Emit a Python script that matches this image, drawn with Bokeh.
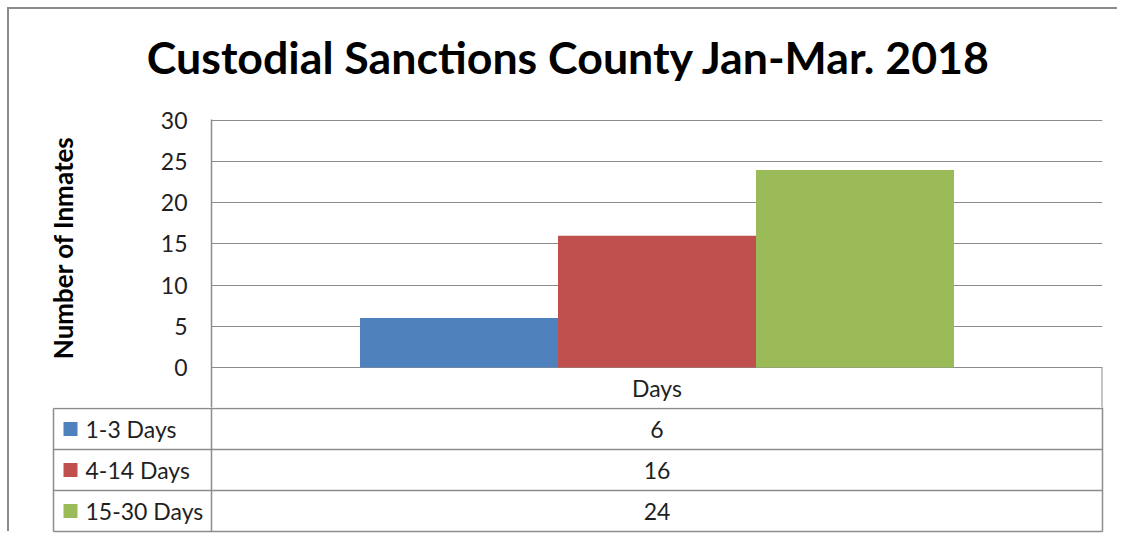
import math
from bokeh.plotting import figure
from bokeh.layouts import column, row
from bokeh.models import FactorRange, Range1d, FixedTicker
from bokeh.core.properties import value
from bokeh.transform import dodge
from bokeh.embed import file_html
from bokeh.resources import INLINE

title_text = "Custodial Sanctions County  Jan-Mar. 2018"
y_title = "Number of  Inmates"
categories = ["Days"]
series = ["1-3 Days", "4-14 Days", "15-30 Days"]
values = [6, 16, 24]
colors = ["#4F81BD", "#C0504D", "#9BBB59"]
y_ticks = [0, 5, 10, 15, 20, 25, 30]

FONT = "Lato"
TXT = "#1f1f1f"
LINE = "#8c8c8c"
W = 1110
LW = 91


def strip(fig):
    fig.outline_line_color = None
    fig.frame_align = False
    return fig


# ---------------- title strip ----------------
p0 = strip(figure(width=W, height=96, output_backend="svg", toolbar_location=None,
                  title_location=None, x_range=Range1d(0, W), y_range=Range1d(96, 0),
                  x_axis_location=None, y_axis_location=None, min_border=0))
p0.grid.visible = False
p0.text(x=[565], y=[47], text=[title_text], text_font=value(FONT),
        text_font_style="bold", text_font_size="44.7px", text_color="black",
        text_align="center", text_baseline="alphabetic")

# ---------------- y-axis title ----------------
pl = strip(figure(width=LW, height=302, output_backend="svg", toolbar_location=None,
                  title_location=None, x_range=Range1d(0, LW), y_range=Range1d(0, 302),
                  x_axis_location=None, y_axis_location=None, min_border=0))
pl.grid.visible = False
pl.text(x=[53], y=[163], text=[y_title], angle=math.pi / 2, text_font=value(FONT),
        text_font_style="bold", text_font_size="26px", text_color="black",
        text_align="center", text_baseline="middle")

# ---------------- chart (incl. table header row) ----------------
p1 = strip(figure(width=W - LW, height=302, output_backend="svg", toolbar_location=None,
                  title_location=None,
                  x_range=FactorRange(factors=categories), y_range=Range1d(-4.858, 30.12),
                  x_axis_location=None,
                  min_border_left=111, min_border_right=17, min_border_top=14,
                  min_border_bottom=0))

group = 1 / 1.5
bw = group / len(series)
for i, (name, v, c) in enumerate(zip(series, values, colors)):
    off = (i - (len(series) - 1) / 2) * bw
    p1.vbar(x=dodge("cat", off, range=p1.x_range), top="v", width=bw,
            source=dict(cat=categories, v=[v]), color=c, line_color=None)

# data-table header row: right edge and category name
p1.segment(x0=[len(categories)], y0=[0], x1=[len(categories)], y1=[-6],
           line_color=LINE, line_width=2)
p1.text(x=categories, y=[-2.5], text=categories, text_font=value(FONT),
        text_font_size="23px", text_color=TXT, text_align="center", text_baseline="middle")

p1.ygrid.grid_line_color = LINE
p1.xgrid.visible = False
p1.yaxis.ticker = FixedTicker(ticks=y_ticks)
p1.yaxis.axis_line_color = LINE
p1.yaxis.axis_line_width = 1.5
p1.yaxis.major_tick_line_color = None
p1.yaxis.minor_tick_line_color = None
p1.yaxis.major_tick_out = 0
p1.yaxis.major_label_standoff = 24
p1.yaxis.major_label_text_font = FONT
p1.yaxis.major_label_text_font_size = "23px"
p1.yaxis.major_label_text_color = TXT

# ---------------- data table rows ----------------
ROW_H = 41
LEFT_W = 158
VAL_W = 891
p2 = strip(figure(width=W, height=126, output_backend="svg", toolbar_location=None,
                  title_location=None,
                  x_range=Range1d(-167, 899), y_range=Range1d(166, 40),
                  x_axis_location=None, y_axis_location=None,
                  min_border_left=35, min_border_right=9, min_border_top=0, min_border_bottom=0))
p2.grid.visible = False

n = len(series)
hy = [ROW_H * (k + 1) for k in range(n + 1)]
x0 = [-LEFT_W] * len(hy) + [0, VAL_W, -LEFT_W]
x1 = [VAL_W] * len(hy) + [0, VAL_W, -LEFT_W]
y0 = hy + [0, 0, ROW_H]
y1 = hy + [hy[-1], hy[-1], hy[-1]]
p2.segment(x0=x0, y0=y0, x1=x1, y1=y1, line_color=LINE, line_width=1.5)

row_c = [ROW_H * (k + 1.5) for k in range(n)]
p2.rect(x=[-141] * n, y=row_c, width=14, height=14, width_units="screen",
        height_units="screen", fill_color=colors, line_color=None)
p2.text(x=[-126] * n, y=row_c, text=series, text_font=value(FONT), text_font_size="23px",
        text_color=TXT, text_align="left", text_baseline="middle")
p2.text(x=[VAL_W / 2] * n, y=row_c, text=[str(v) for v in values], text_font=value(FONT),
        text_font_size="23px", text_color=TXT, text_align="center", text_baseline="middle")

layout = column(p0, row(pl, p1, spacing=0), p2, spacing=0,
                styles={"margin-left": "9px", "margin-top": "9px",
                        "box-shadow": "-2px -2px 0 0 #8a8a8a"})

open("out.html", "w").write(file_html(layout, INLINE))
